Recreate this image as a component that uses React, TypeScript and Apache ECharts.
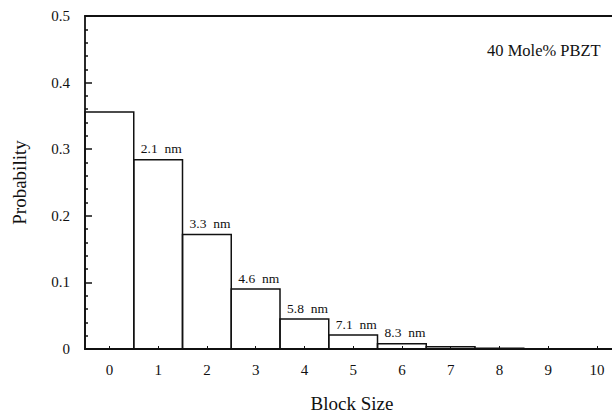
import React, { useEffect, useRef } from "react";
import * as echarts from "echarts";

// Block-size distribution for the 40 mole% PBZT copolymer
const blockSizes = [0, 1, 2, 3, 4, 5, 6, 7, 8, 9, 10];
const probabilities = [0.356, 0.284, 0.172, 0.09, 0.045, 0.021, 0.008, 0.0035, 0.0012, 0, 0];
const blockLengths = ["", "2.1\u2002nm", "3.3\u2002nm", "4.6\u2002nm", "5.8\u2002nm", "7.1\u2002nm", "8.3\u2002nm", "", "", "", ""];
const yTicks = [0, 0.1, 0.2, 0.3, 0.4, 0.5];

const FONT = "'Liberation Serif', 'DejaVu Serif', serif";

export default function App() {
  const ref = useRef<HTMLDivElement>(null);

  useEffect(() => {
    if (!ref.current) return;
    const chart = echarts.init(ref.current, null, { renderer: "svg" });
    const data = blockSizes.map((b, i) => [b, probabilities[i]]);

    chart.setOption({
      animation: false,
      backgroundColor: "#ffffff",
      // fixed plot box; names and labels may sit close to the edges
      grid: { left: 85, top: 16, right: 0, height: 333, outerBoundsMode: "none" },
      graphic: [
        {
          type: "text",
          left: 487,
          top: 42,
          style: { text: "40 Mole% PBZT", font: `16.5px ${FONT}`, fill: "#111" },
        },
      ],
      xAxis: [
        {
          type: "value",
          min: -0.5,
          max: 10.31,
          name: "Block Size",
          nameLocation: "middle",
          nameGap: 45,
          nameTextStyle: { fontFamily: FONT, fontSize: 19, color: "#111", padding: [0, 0, 0, 7] },
          axisLine: { onZero: false, lineStyle: { color: "#111", width: 1.8 } },
          axisTick: { inside: true, length: 3, customValues: blockSizes, lineStyle: { color: "#111" } },
          axisLabel: {
            customValues: blockSizes,
            fontFamily: FONT,
            fontSize: 15,
            color: "#111",
            margin: 13,
          },
          splitLine: { show: false },
        },
        {
          type: "value",
          min: -0.5,
          max: 10.31,
          position: "top",
          axisLine: { onZero: false, lineStyle: { color: "#111", width: 1.8 } },
          axisTick: { show: false },
          axisLabel: { show: false },
          splitLine: { show: false },
        },
      ],
      yAxis: {
        type: "value",
        min: yTicks[0],
        max: yTicks[yTicks.length - 1],
        interval: 0.1,
        name: "Probability",
        nameLocation: "middle",
        nameGap: 56,
        nameTextStyle: { fontFamily: FONT, fontSize: 19, color: "#111" },
        axisLine: { show: true, onZero: false, lineStyle: { color: "#111", width: 1.8 } },
        axisTick: { inside: true, length: 7, lineStyle: { color: "#111", width: 1.5 } },
        minorTick: { show: true, splitNumber: 5, length: 3, lineStyle: { color: "#111", width: 1.5 } },
        axisLabel: {
          fontFamily: FONT,
          fontSize: 15,
          color: "#111",
          margin: 15,
          padding: [5, 0, 0, 0],
          formatter: (v: number) => (v === 0 ? "0" : String(Math.round(v * 10) / 10)),
        },
        splitLine: { show: false },
      },
      series: [
        {
          // histogram bars: each block size spans ±0.5 around its value
          type: "custom",
          data,
          renderItem: (params: any, api: any) => {
            const x = api.value(0);
            const y = api.value(1);
            const topLeft = api.coord([x - 0.5, y]);
            const bottomRight = api.coord([x + 0.5, 0]);
            const children: any[] = [
              {
                type: "rect",
                shape: {
                  x: topLeft[0],
                  y: topLeft[1],
                  width: bottomRight[0] - topLeft[0],
                  height: bottomRight[1] - topLeft[1],
                },
                style: { fill: "none", stroke: "#111", lineWidth: 1.5 },
              },
            ];
            const label = blockLengths[params.dataIndex];
            if (label) {
              children.push({
                type: "text",
                x: topLeft[0] + 7,
                y: topLeft[1] - 18,
                style: { text: label, font: `13.5px ${FONT}`, fill: "#111", verticalAlign: "top" },
              });
            }
            return { type: "group", children };
          },
        },
      ],
    });
    return () => chart.dispose();
  }, []);

  return (
    <div
      ref={ref}
      style={{ position: "fixed", left: 0, top: 0, width: 612, height: 413 }}
    />
  );
}
